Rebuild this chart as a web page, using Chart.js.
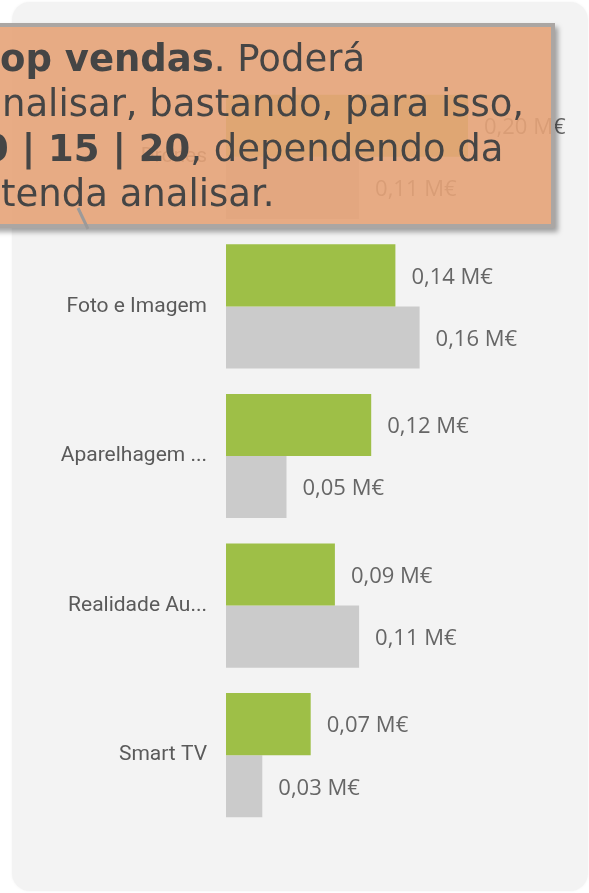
<!DOCTYPE html>
<html lang="pt">
<head>
<meta charset="utf-8">
<title>Top vendas por categoria</title>
<script src="https://cdn.jsdelivr.net/npm/chart.js"></script>
<style>
  html, body { margin: 0; padding: 0; background: #fff; overflow: hidden; }
  body { width: 589px; height: 893px; position: relative; }
  .card {
    position: absolute; left: 12px; top: 2px; width: 576px; height: 889px;
    background: #f3f3f3; border-radius: 18px;
    box-shadow: 0 0 3px rgba(0,0,0,0.05);
  }
  #chart { position: absolute; left: 0; top: 0; }
  .note {
    position: absolute; left: -10px; top: 23px; width: 557px; height: 197px;
    background: rgba(230, 163, 120, 0.9);
    border: 4px solid #aba6a3;
    box-shadow: 3px 4px 5px rgba(0,0,0,0.35);
    font-family: "DejaVu Sans", sans-serif; font-size: 37px; line-height: 45px;
    color: #454545;
  }
  .note .ln { position: absolute; white-space: nowrap; }
  .note b { font-weight: bold; }
  .note svg { position: absolute; left: 0; top: 0; overflow: visible; }
</style>
</head>
<body>
<div class="card"></div>
<canvas id="chart" width="589" height="893"></canvas>
<div class="note">
  <div class="ln" style="left:6px; top:9px;"><b>op vendas</b>. Poderá</div>
  <div class="ln" style="left:8px; top:54px;">nalisar, bastando, para isso,</div>
  <div class="ln" style="left:-11px; top:99px;"><b>0 | 15 | 20</b>, dependendo da</div>
  <div class="ln" style="left:7px; top:144px;">tenda analisar.</div>
  <svg width="10" height="10"><line x1="84" y1="181" x2="94" y2="202" stroke="#9c9a99" stroke-width="3"/></svg>
</div>
<script>
(function () {
    "use strict";

    var categories = ["Drones", "Foto e Imagem", "Aparelhagem ...", "Realidade Au...", "Smart TV"];
    var salesCurrent = [0.20, 0.14, 0.12, 0.09, 0.07];
    var salesPrevious = [0.11, 0.16, 0.05, 0.11, 0.03];

    function fmt(v) {
        return v.toFixed(2).replace(".", ",") + " M\u20AC";
    }

    // value labels to the right of each bar
    var barLabels = {
        id: "barLabels",
        afterDatasetsDraw: function (chart) {
            var ctx = chart.ctx;
            ctx.save();
            ctx.font = "22px 'Open Sans'";
            ctx.fillStyle = "#666";
            ctx.textAlign = "left";
            ctx.textBaseline = "middle";
            chart.data.datasets.forEach(function (ds, i) {
                chart.getDatasetMeta(i).data.forEach(function (bar, j) {
                    ctx.fillText(fmt(ds.data[j]), bar.x + 16, bar.y + 2);
                });
            });
            ctx.restore();
        }
    };

    function draw() {
        var ctx = document.getElementById("chart");
        new Chart(ctx, {
            type: "bar",
            data: {
                labels: categories,
                datasets: [{
                    data: salesCurrent,
                    backgroundColor: "#9ebf47",
                    barPercentage: 1,
                    categoryPercentage: 0.83
                }, {
                    data: salesPrevious,
                    backgroundColor: "#cbcbcb",
                    barPercentage: 1,
                    categoryPercentage: 0.83
                }]
            },
            options: {
                indexAxis: "y",
                responsive: false,
                animation: false,
                layout: { padding: { top: 82, bottom: 63, left: 0, right: 60.5 } },
                plugins: { legend: { display: false }, tooltip: { enabled: false } },
                scales: {
                    x: { display: false, min: 0, max: 0.25 },
                    y: {
                        grid: { display: false, drawTicks: false },
                        border: { display: false },
                        ticks: {
                            padding: 19,
                            color: "#5a5a5a",
                            font: { family: "Roboto", size: 21 }
                        },
                        afterFit: function (scale) { scale.width = 226; }
                    }
                }
            },
            plugins: [barLabels]
        });
    }

    Promise.all([
        document.fonts.load("21px Roboto"),
        document.fonts.load("22px 'Open Sans'")
    ]).then(draw, draw);
})();
</script>
</body>
</html>
